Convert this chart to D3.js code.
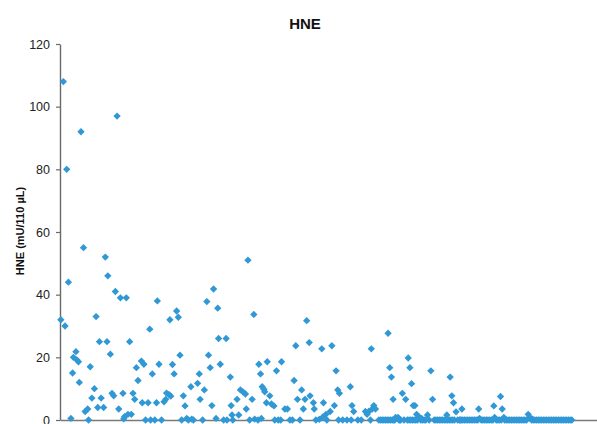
<!DOCTYPE html>
<html>
<head>
<meta charset="utf-8">
<script src="https://cdn.jsdelivr.net/npm/d3@7"></script>
<style>
  body { margin: 0; background: #fff; }
  svg { display: block; }
</style>
</head>
<body>
<svg id="chart" width="597" height="424"></svg>
<script>
// Chart text
const chartTitle = "HNE";
const yAxisLabel = "HNE (mU/110 µL)";
const yTickValues = [0, 20, 40, 60, 80, 100, 120];

// Sample number of each measurement
const sample = [
  1, 4, 6, 8, 10, 13, 15, 16, 19, 20, 22, 23, 25, 28, 30, 33, 34, 36, 38, 41,
  43, 45, 47, 49, 52, 54, 56, 57, 60, 62, 64, 66, 68, 70, 72, 75, 76, 77, 79, 81,
  83, 85, 87, 89, 91, 93, 97, 98, 100, 102, 105, 107, 108, 110, 113, 115, 116, 118, 121, 124,
  126, 127, 130, 131, 132, 134, 136, 139, 141, 143, 145, 147, 149, 151, 153, 156, 157, 159, 164, 166,
  167, 170, 172, 175, 177, 179, 181, 183, 186, 188, 189, 191, 195, 198, 199, 203, 204, 205, 206, 211,
  213, 215, 218, 221, 222, 224, 226, 229, 231, 232, 236, 237, 239, 240, 241, 243, 244, 246, 247, 250,
  252, 255, 256, 258, 260, 263, 264, 268, 271, 274, 277, 279, 281, 283, 286, 288, 290, 292, 294, 297,
  298, 302, 303, 305, 309, 312, 313, 314, 317, 318, 322, 324, 327, 329, 331, 332, 333, 337, 342, 346,
  347, 348, 350, 355, 359, 364, 366, 368, 370, 371, 372, 374, 376, 380,
  382, 384, 386, 388, 390, 391, 392, 393, 394, 395, 396, 397, 398, 399, 400, 402, 403, 404, 405, 406,
  408, 410, 412, 414, 415, 416, 417, 418, 419, 420, 421, 422, 423, 424, 425, 426, 428, 430, 431, 432,
  434, 436, 438, 440, 442, 444, 446, 448, 450, 452, 454, 456, 458, 460, 461, 462, 464, 465, 466, 467,
  468, 469, 470, 472, 474, 476, 477, 478, 479, 480, 482, 484, 486, 488, 490, 492, 494, 496, 498, 499,
  500, 502, 504, 506, 508, 510, 512, 514, 516, 517, 518, 520, 522, 524, 525, 526, 527, 529, 530, 532,
  534, 536, 538, 540, 542, 544, 546, 548, 550, 552, 554, 556, 558, 560, 562, 563, 564, 566, 568, 570,
  572, 574, 576, 578, 580, 582, 584, 586, 588, 590, 592, 594, 596, 598, 600, 602, 604, 606, 608, 610
];

// HNE activity (mU/110 µL) for each sample
const hne = [
  32, 108, 30, 80, 44, 0.5, 15, 20, 21.8, 19.2, 18.6, 12, 92, 55, 2.7, 3.5, 0, 17, 7, 10,
  33, 4, 25, 7, 4, 52, 25, 46, 21, 8.5, 7.7, 41, 97, 3.5, 39, 8.5, 0.4, 1.1, 39, 1.8,
  25, 1.8, 8.5, 6.6, 16.7, 12.6, 18.8, 5.5, 17.8, 0, 5.5, 29, 0, 14.7, 0, 5.5, 38, 17.8, 0, 5.8,
  6.6, 8.6, 8.1, 32, 7.6, 17.7, 14.7, 34.8, 32.8, 20.7, 0, 7.7, 4.5, 0.5, 0, 10.6, 0.3, 0, 11.7, 14.7,
  6.6, 0, 9.6, 37.8, 20.7, 16.7, 4.6, 41.8, 0.5, 35.7, 26, 17.8, 0, 26, 0, 13.7, 4.6, 1.6, 0, 6.6,
  1.6, 9.6, 9, 8.3, 3.5, 51, 0, 6.6, 33.7, 0.3, 0, 17.8, 14.7, 0.5, 10.6, 9.8, 9, 5.5, 18.6, 7.7,
  5.1, 4.5, 0, 15.7, 0, 0, 18.6, 3.5, 3.5, 0, 0, 12.6, 23.7, 6.6, 0, 9.6, 3.5, 6.6, 31.7, 24.7,
  7.7, 5.5, 3.5, 0, 0.2, 22.7, 0.9, 5.5, 1.8, 0, 2.7, 23.7, 4.6, 15.7, 9.6, 0, 8.5, 0, 0, 10.6,
  0, 4.6, 2.7, 0, 0, 2.7, 1.8, 2.7, 0, 22.7, 3.5, 4.6, 3.5, 0,
  0, 0, 0, 0, 0, 27.7, 0, 16.7, 0, 13.7, 0, 6.6, 0, 0, 0.8, 0.5, 0.8, 0, 0, 0,
  8.5, 0, 6.6, 0, 19.8, 0, 16.7, 0, 11.6, 0, 4.6, 0, 4.6, 0, 1.8, 0, 1, 0, 0.5, 0,
  0, 0, 1.6, 0, 15.7, 6.6, 0, 0, 0, 0, 0, 0, 0, 0, 1.6, 0, 0, 13.7, 0, 7.7,
  0, 5.5, 0, 2.6, 0, 0, 0, 0, 3.5, 0, 0, 0, 0, 0, 0, 0, 0, 0, 0, 3.5,
  0.5, 0, 0, 0, 0, 0, 0, 0, 0, 4.5, 0.8, 0, 0, 0, 7.5, 0, 3.5, 0.8, 0, 0,
  0, 0, 0, 0, 0, 0, 0, 0, 0, 0, 0, 0, 1.8, 0.9, 0, 0.3, 0, 0, 0, 0,
  0, 0, 0, 0, 0, 0, 0, 0, 0, 0, 0, 0, 0, 0, 0, 0, 0, 0, 0, 0
];

(function drawChart() {
  const points = sample.map((s, i) => ({ sample: s, value: hne[i] }));

  const svg = d3.select("#chart");
  const plotLeft = 60, plotRight = 597, plotTop = 44, plotBottom = 420;

  const x = d3.scaleLinear().domain([0, 640]).range([plotLeft, plotRight]);
  const y = d3.scaleLinear().domain([0, 120]).range([plotBottom, plotTop]);

  const font = "'Liberation Sans', Arial, sans-serif";

  // Title
  svg.append("text")
    .attr("x", 305)
    .attr("y", 29)
    .attr("text-anchor", "middle")
    .style("font-family", font)
    .style("font-weight", "bold")
    .style("font-size", "15px")
    .style("fill", "#111")
    .text(chartTitle);

  // Y axis title
  svg.append("text")
    .attr("transform", "translate(24,231) rotate(-90)")
    .attr("text-anchor", "middle")
    .style("font-family", font)
    .style("font-weight", "bold")
    .style("font-size", "11px")
    .style("fill", "#111")
    .text(yAxisLabel);

  // X axis: baseline only
  const xAxis = svg.append("g")
    .attr("transform", `translate(0,${plotBottom})`)
    .call(d3.axisBottom(x).tickValues([]).tickSizeOuter(0));
  xAxis.select(".domain").attr("stroke", "#7a7a7a").attr("stroke-width", 1.4);

  // Y axis
  const yAxis = svg.append("g")
    .attr("transform", `translate(${plotLeft},0)`)
    .call(d3.axisLeft(y).tickValues(yTickValues).tickSize(4).tickSizeOuter(0).tickPadding(6));
  yAxis.select(".domain").attr("stroke", "#6a6a6a").attr("stroke-width", 1.4);
  yAxis.selectAll(".tick line").attr("stroke", "#6a6a6a").attr("stroke-width", 1.2);
  yAxis.selectAll(".tick text")
    .style("font-family", font)
    .style("font-size", "12.5px")
    .style("fill", "#222");

  // Diamond markers
  const diamond = d3.symbol().type(d3.symbolSquare).size(27);
  svg.append("g")
    .selectAll("path")
    .data(points)
    .join("path")
    .attr("d", diamond)
    .attr("transform", d => `translate(${x(d.sample)},${y(d.value)}) rotate(45)`)
    .attr("fill", "#3198d6");
})();
</script>
</body>
</html>
